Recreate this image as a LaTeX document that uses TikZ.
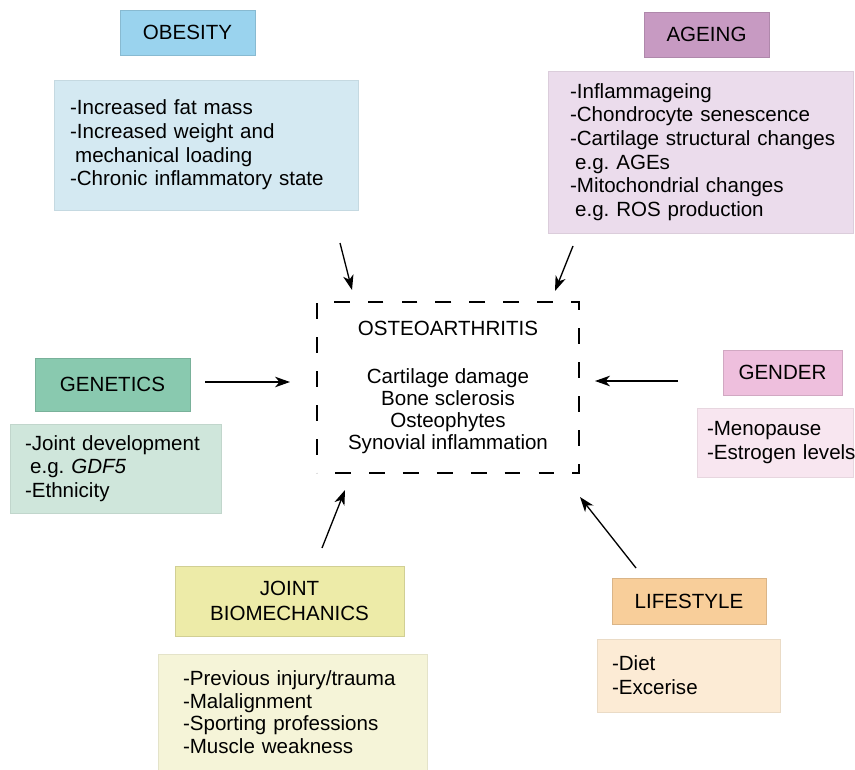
\documentclass[tikz,border=0pt]{standalone}
\usepackage{fontspec}
\setmainfont{Liberation Sans}
\usetikzlibrary{arrows.meta,decorations}
\hyphenpenalty=10000
\exhyphenpenalty=10000

\definecolor{obesityhead}{HTML}{9AD3EE}
\definecolor{obesitybody}{HTML}{D4E9F2}
\definecolor{ageinghead}{HTML}{C79AC2}
\definecolor{ageingbody}{HTML}{EBDCEC}
\definecolor{geneticshead}{HTML}{89C9AF}
\definecolor{geneticsbody}{HTML}{CFE6DB}
\definecolor{genderhead}{HTML}{EEBFDD}
\definecolor{genderbody}{HTML}{F8E6F0}
\definecolor{jointhead}{HTML}{EDEBA8}
\definecolor{jointbody}{HTML}{F5F4D8}
\definecolor{lifestylehead}{HTML}{F8CE9A}
\definecolor{lifestylebody}{HTML}{FCEBD5}

\begin{document}
\begin{tikzpicture}[x=0.02cm, y=-0.02cm,
    head/.style={draw=#1!88!black, fill=#1, line width=0.5pt, align=center,
        inner sep=0pt, font=\fontsize{11.7}{14.2}\selectfont},
    body/.style={draw=#1!93!black, fill=#1, line width=0.4pt, align=left,
        inner ysep=0pt, font=\fontsize{11.7}{13.5}\selectfont},
    arr/.style={-{Stealth[length=8.5pt,width=6pt,inset=2.5pt]}, line width=0.75pt}]
    \useasboundingbox (0,0) rectangle (855,770);

    % centre
    \node[draw, line width=0.8pt, dash pattern=on 9pt off 10pt, dash expand off,
        minimum width=5.24cm, minimum height=3.42cm, inner sep=0pt, align=center,
        font=\fontsize{11.7}{12.6}\selectfont] (oa) at (448,387.5)
        {OSTEOARTHRITIS\\[15pt]Cartilage damage\\Bone sclerosis\\Osteophytes\\Synovial inflammation};

    % obesity
    \node[head=obesityhead, minimum width=2.7cm, minimum height=0.9cm] (obesity) at (187.5,32.5) {OBESITY};
    \node[body=obesitybody, minimum width=6.08cm, minimum height=2.6cm, inner xsep=0.32cm,
        text width=5.44cm] (obesitytxt) at (206,145)
        {-Increased fat mass\\-Increased weight and\\\hspace*{0.25em}mechanical loading\\-Chronic~inflammatory~state};

    % ageing
    \node[head=ageinghead, minimum width=2.5cm, minimum height=0.9cm] (ageing) at (706.5,34.5) {AGEING};
    \node[body=ageingbody, minimum width=6.1cm, minimum height=3.24cm, inner xsep=0.44cm,
        text width=5.22cm] (ageingtxt) at (700.5,152)
        {-Inflammageing\\-Chondrocyte~senescence\\-Cartilage~structural~changes\\\hspace*{0.25em}e.g.\ AGEs\\-Mitochondrial~changes\\\hspace*{0.25em}e.g.\ ROS~production};

    % genetics
    \node[head=geneticshead, minimum width=3.1cm, minimum height=1.06cm] (genetics) at (112.5,384.5) {GENETICS};
    \node[body=geneticsbody, minimum width=4.22cm, minimum height=1.78cm, inner xsep=0.3cm,
        text width=3.62cm] (geneticstxt) at (115.5,468.5)
        {-Joint~development\\\hspace*{0.25em}e.g.\ \textit{GDF5}\\-Ethnicity};

    % gender
    \node[head=genderhead, minimum width=2.38cm, minimum height=0.9cm] (gender) at (782.5,372.5) {GENDER};
    \node[body=genderbody, minimum width=3.12cm, minimum height=1.38cm, inner xsep=0.2cm,
        text width=2.72cm] (gendertxt) at (775,442.5)
        {-Menopause\\-Estrogen~levels};

    % joint biomechanics
    \node[head=jointhead, minimum width=4.58cm, minimum height=1.4cm] (joint) at (289.5,601) {JOINT\\BIOMECHANICS};
    \node[body=jointbody, minimum width=5.38cm, minimum height=2.32cm, inner xsep=0.5cm,
        text width=4.38cm, font=\fontsize{11.7}{12.8}\selectfont] (jointtxt) at (292.5,712)
        {-Previous~injury/trauma\\-Malalignment\\-Sporting~professions\\-Muscle~weakness};

    % lifestyle
    \node[head=lifestylehead, minimum width=3.08cm, minimum height=0.92cm] (lifestyle) at (689,601) {LIFESTYLE};
    \node[body=lifestylebody, minimum width=3.66cm, minimum height=1.46cm, inner xsep=0.3cm,
        text width=3.06cm] (lifestyletxt) at (688.5,675.5)
        {-Diet\\-Excerise};

    % arrow ends
    \coordinate (obesity-from) at (340,243);
    \coordinate (obesity-to) at (352,290);
    \coordinate (ageing-from) at (573,246);
    \coordinate (ageing-to) at (555,291);
    \coordinate (genetics-from) at (205,382);
    \coordinate (genetics-to) at (290,382);
    \coordinate (gender-from) at (678,381);
    \coordinate (gender-to) at (595,381);
    \coordinate (joint-from) at (322,548);
    \coordinate (joint-to) at (345,490);
    \coordinate (lifestyle-from) at (636,568);
    \coordinate (lifestyle-to) at (580,497);

    \foreach \f in {obesity,ageing,genetics,gender,joint,lifestyle}
        \draw[arr] (\f-from) -- (\f-to);
\end{tikzpicture}
\end{document}
